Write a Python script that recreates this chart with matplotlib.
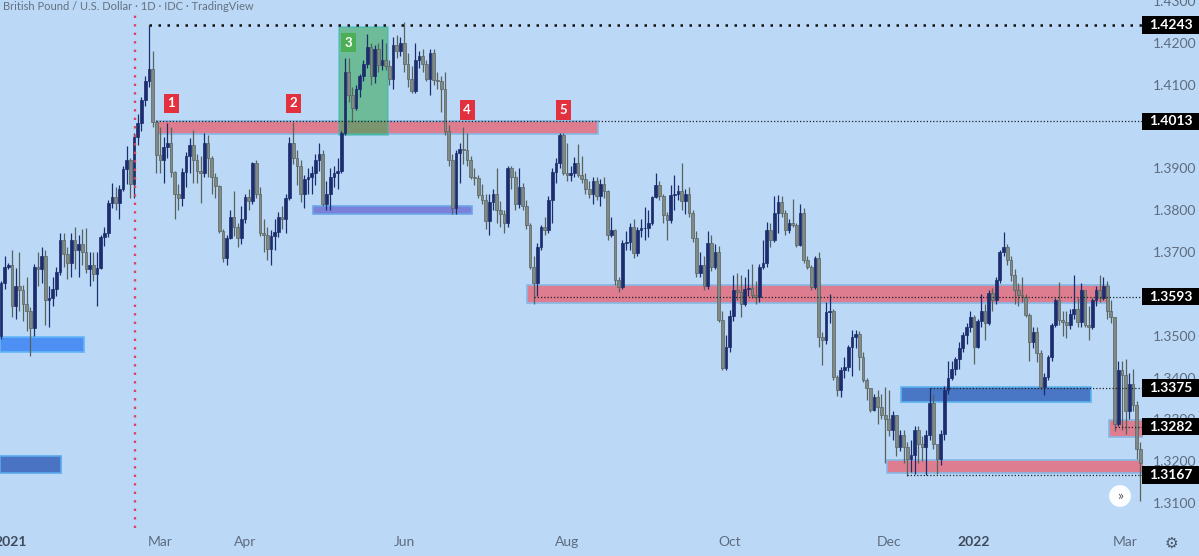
import numpy as np
import matplotlib
matplotlib.use("Agg")
import matplotlib.pyplot as plt
from matplotlib.patches import Rectangle
from matplotlib.transforms import blended_transform_factory

plt.rcParams['font.family'] = ['Lato', 'DejaVu Sans']

# GBP/USD daily, 30 Dec 2020 .. 7 Mar 2022 (bar index = trading day)
first_open = 1.3500
close = [
    1.3625, 1.3665, 1.3670, 1.3572, 1.3620, 1.3610, 1.3575, 1.3560, 1.3518, 1.3665,
    1.3660, 1.3690, 1.3585, 1.3590, 1.3612, 1.3652, 1.3728, 1.3695, 1.3675, 1.3730,
    1.3705, 1.3720, 1.3700, 1.3660, 1.3670, 1.3648, 1.3662, 1.3737, 1.3745, 1.3817,
    1.3832, 1.3818, 1.3850, 1.3898, 1.3920, 1.3862, 1.3976, 1.4008, 1.4064, 1.4108,
    1.4138, 1.4012, 1.3932, 1.3920, 1.3952, 1.3960, 1.3892, 1.3838, 1.3830, 1.3892,
    1.3930, 1.3955, 1.3920, 1.3893, 1.3890, 1.3960, 1.3925, 1.3880, 1.3857, 1.3750,
    1.3685, 1.3733, 1.3785, 1.3760, 1.3733, 1.3780, 1.3832, 1.3822, 1.3912, 1.3840,
    1.3745, 1.3740, 1.3708, 1.3738, 1.3748, 1.3785, 1.3778, 1.3830, 1.3962, 1.3925,
    1.3905, 1.3838, 1.3875, 1.3880, 1.3890, 1.3920, 1.3935, 1.3815, 1.3840, 1.3880,
    1.3888, 1.3895, 1.3985, 1.4130, 1.4075, 1.4045, 1.4090, 1.4120, 1.4150, 1.4190,
    1.4120, 1.4185, 1.4148, 1.4160, 1.4145, 1.4115, 1.4195, 1.4180, 1.4200, 1.4150,
    1.4115, 1.4085, 1.4160, 1.4170, 1.4150, 1.4115, 1.4175, 1.4112, 1.4110, 1.4090,
    1.3990, 1.3920, 1.3805, 1.3936, 1.3946, 1.3945, 1.3920, 1.3880, 1.3878, 1.3837,
    1.3825, 1.3775, 1.3820, 1.3840, 1.3800, 1.3790, 1.3770, 1.3900, 1.3880, 1.3815,
    1.3855, 1.3810, 1.3765, 1.3665, 1.3625, 1.3713, 1.3760, 1.3752, 1.3825, 1.3892,
    1.3912, 1.3980, 1.3890, 1.3885, 1.3888, 1.3912, 1.3885, 1.3875, 1.3850, 1.3838,
    1.3870, 1.3835, 1.3862, 1.3845, 1.3741, 1.3752, 1.3633, 1.3617, 1.3721, 1.3725,
    1.3760, 1.3697, 1.3753, 1.3757, 1.3758, 1.3770, 1.3832, 1.3860, 1.3833, 1.3789,
    1.3777, 1.3836, 1.3840, 1.3845, 1.3822, 1.3840, 1.3793, 1.3733, 1.3649, 1.3670,
    1.3620, 1.3721, 1.3665, 1.3700, 1.3538, 1.3422, 1.3474, 1.3546, 1.3610, 1.3605,
    1.3575, 1.3612, 1.3615, 1.3598, 1.3592, 1.3665, 1.3673, 1.3753, 1.3729, 1.3793,
    1.3820, 1.3793, 1.3753, 1.3769, 1.3765, 1.3717, 1.3793, 1.3681, 1.3665, 1.3617,
    1.3685, 1.3498, 1.3490, 1.3557, 1.3560, 1.3402, 1.3370, 1.3418, 1.3426, 1.3474,
    1.3498, 1.3505, 1.3450, 1.3394, 1.3374, 1.3323, 1.3354, 1.3330, 1.3310, 1.3300,
    1.3275, 1.3310, 1.3235, 1.3262, 1.3235, 1.3205, 1.3215, 1.3275, 1.3240, 1.3235,
    1.3263, 1.3340, 1.3240, 1.3205, 1.3265, 1.3370, 1.3400, 1.3420, 1.3445, 1.3470,
    1.3502, 1.3522, 1.3545, 1.3474, 1.3535, 1.3560, 1.3530, 1.3601, 1.3585, 1.3633,
    1.3700, 1.3712, 1.3680, 1.3645, 1.3609, 1.3598, 1.3593, 1.3550, 1.3486, 1.3510,
    1.3458, 1.3378, 1.3402, 1.3450, 1.3526, 1.3586, 1.3538, 1.3534, 1.3526, 1.3553,
    1.3565, 1.3534, 1.3610, 1.3526, 1.3520, 1.3585, 1.3610, 1.3590, 1.3620, 1.3560,
    1.3545, 1.3290, 1.3418, 1.3407, 1.3320, 1.3385, 1.3335, 1.3228, 1.3195,
]
high = [
    1.3632, 1.3690, 1.3675, 1.3705, 1.3662, 1.3700, 1.3622, 1.3640, 1.3568, 1.3672,
    1.3700, 1.3712, 1.3705, 1.3620, 1.3640, 1.3665, 1.3745, 1.3745, 1.3712, 1.3745,
    1.3760, 1.3740, 1.3755, 1.3758, 1.3700, 1.3700, 1.3700, 1.3742, 1.3760, 1.3825,
    1.3865, 1.3855, 1.3860, 1.3905, 1.3953, 1.3925, 1.3985, 1.4030, 1.4072, 1.4120,
    1.4243, 1.4180, 1.4015, 1.4000, 1.3975, 1.4008, 1.4000, 1.3895, 1.3862, 1.3900,
    1.3940, 1.3972, 1.3992, 1.3935, 1.3930, 1.3985, 1.3980, 1.3930, 1.3890, 1.3860,
    1.3755, 1.3740, 1.3800, 1.3845, 1.3770, 1.3810, 1.3840, 1.3850, 1.3916, 1.3920,
    1.3855, 1.3780, 1.3760, 1.3752, 1.3780, 1.3795, 1.3810, 1.3840, 1.3975, 1.4010,
    1.3945, 1.3920, 1.3885, 1.3900, 1.3905, 1.3935, 1.3962, 1.3945, 1.3870, 1.3900,
    1.3905, 1.3925, 1.3990, 1.4165, 1.4165, 1.4095, 1.4100, 1.4125, 1.4160, 1.4222,
    1.4200, 1.4195, 1.4200, 1.4210, 1.4200, 1.4160, 1.4215, 1.4220, 1.4215, 1.4250,
    1.4175, 1.4145, 1.4200, 1.4180, 1.4185, 1.4160, 1.4185, 1.4185, 1.4130, 1.4120,
    1.4130, 1.4005, 1.3935, 1.3945, 1.3962, 1.3999, 1.3985, 1.3930, 1.3900, 1.3885,
    1.3862, 1.3840, 1.3840, 1.3850, 1.3900, 1.3822, 1.3800, 1.3905, 1.3905, 1.3895,
    1.3900, 1.3865, 1.3825, 1.3770, 1.3690, 1.3722, 1.3765, 1.3785, 1.3835, 1.3900,
    1.3925, 1.3985, 1.3985, 1.3960, 1.3905, 1.3928, 1.3958, 1.3930, 1.3890, 1.3870,
    1.3880, 1.3880, 1.3875, 1.3880, 1.3848, 1.3785, 1.3755, 1.3640, 1.3728, 1.3750,
    1.3770, 1.3780, 1.3760, 1.3780, 1.3808, 1.3800, 1.3835, 1.3890, 1.3870, 1.3840,
    1.3795, 1.3860, 1.3885, 1.3860, 1.3913, 1.3850, 1.3855, 1.3800, 1.3750, 1.3700,
    1.3690, 1.3750, 1.3740, 1.3720, 1.3715, 1.3558, 1.3502, 1.3562, 1.3645, 1.3650,
    1.3645, 1.3640, 1.3660, 1.3672, 1.3632, 1.3672, 1.3730, 1.3772, 1.3770, 1.3833,
    1.3836, 1.3833, 1.3800, 1.3780, 1.3828, 1.3770, 1.3815, 1.3805, 1.3690, 1.3670,
    1.3690, 1.3700, 1.3510, 1.3580, 1.3600, 1.3565, 1.3405, 1.3425, 1.3450, 1.3478,
    1.3514, 1.3514, 1.3512, 1.3460, 1.3400, 1.3376, 1.3360, 1.3370, 1.3360, 1.3378,
    1.3370, 1.3320, 1.3310, 1.3275, 1.3275, 1.3245, 1.3250, 1.3285, 1.3285, 1.3260,
    1.3275, 1.3375, 1.3360, 1.3240, 1.3275, 1.3380, 1.3440, 1.3440, 1.3450, 1.3485,
    1.3510, 1.3530, 1.3560, 1.3550, 1.3540, 1.3600, 1.3575, 1.3610, 1.3615, 1.3640,
    1.3705, 1.3749, 1.3720, 1.3690, 1.3660, 1.3625, 1.3640, 1.3600, 1.3555, 1.3520,
    1.3520, 1.3465, 1.3410, 1.3455, 1.3530, 1.3590, 1.3628, 1.3560, 1.3560, 1.3565,
    1.3645, 1.3590, 1.3625, 1.3600, 1.3570, 1.3590, 1.3620, 1.3645, 1.3640, 1.3630,
    1.3585, 1.3545, 1.3440, 1.3440, 1.3445, 1.3410, 1.3420, 1.3345, 1.3245,
]
low = [
    1.3492, 1.3612, 1.3660, 1.3545, 1.3540, 1.3560, 1.3535, 1.3512, 1.3452, 1.3500,
    1.3618, 1.3625, 1.3525, 1.3522, 1.3570, 1.3595, 1.3645, 1.3665, 1.3635, 1.3640,
    1.3660, 1.3640, 1.3668, 1.3650, 1.3618, 1.3630, 1.3570, 1.3660, 1.3715, 1.3735,
    1.3805, 1.3800, 1.3780, 1.3845, 1.3862, 1.3830, 1.3830, 1.3955, 1.3990, 1.4050,
    1.4095, 1.3998, 1.3888, 1.3888, 1.3865, 1.3925, 1.3880, 1.3780, 1.3800, 1.3810,
    1.3855, 1.3890, 1.3865, 1.3865, 1.3818, 1.3880, 1.3880, 1.3840, 1.3830, 1.3745,
    1.3677, 1.3670, 1.3732, 1.3738, 1.3712, 1.3720, 1.3770, 1.3800, 1.3815, 1.3830,
    1.3738, 1.3700, 1.3680, 1.3670, 1.3705, 1.3735, 1.3755, 1.3745, 1.3825, 1.3910,
    1.3860, 1.3820, 1.3805, 1.3840, 1.3840, 1.3860, 1.3895, 1.3810, 1.3800, 1.3800,
    1.3855, 1.3850, 1.3888, 1.3980, 1.4060, 1.4012, 1.4040, 1.4070, 1.4110, 1.4140,
    1.4100, 1.4105, 1.4130, 1.4135, 1.4135, 1.4100, 1.4090, 1.4165, 1.4170, 1.4130,
    1.4095, 1.4080, 1.4080, 1.4140, 1.4130, 1.4110, 1.4075, 1.4100, 1.4090, 1.4035,
    1.3980, 1.3905, 1.3792, 1.3790, 1.3865, 1.3910, 1.3905, 1.3875, 1.3860, 1.3830,
    1.3815, 1.3755, 1.3740, 1.3800, 1.3770, 1.3760, 1.3745, 1.3760, 1.3850, 1.3800,
    1.3805, 1.3800, 1.3755, 1.3660, 1.3575, 1.3595, 1.3705, 1.3740, 1.3745, 1.3770,
    1.3865, 1.3900, 1.3885, 1.3870, 1.3870, 1.3880, 1.3880, 1.3865, 1.3840, 1.3830,
    1.3815, 1.3825, 1.3810, 1.3830, 1.3730, 1.3735, 1.3622, 1.3605, 1.3612, 1.3705,
    1.3705, 1.3685, 1.3690, 1.3735, 1.3730, 1.3735, 1.3765, 1.3830, 1.3825, 1.3770,
    1.3730, 1.3770, 1.3800, 1.3825, 1.3800, 1.3790, 1.3785, 1.3725, 1.3640, 1.3640,
    1.3610, 1.3612, 1.3655, 1.3660, 1.3533, 1.3418, 1.3418, 1.3460, 1.3535, 1.3585,
    1.3545, 1.3570, 1.3595, 1.3590, 1.3575, 1.3580, 1.3660, 1.3665, 1.3712, 1.3725,
    1.3745, 1.3785, 1.3740, 1.3745, 1.3760, 1.3712, 1.3715, 1.3675, 1.3660, 1.3610,
    1.3612, 1.3474, 1.3430, 1.3480, 1.3530, 1.3394, 1.3355, 1.3354, 1.3400, 1.3415,
    1.3403, 1.3470, 1.3417, 1.3390, 1.3346, 1.3318, 1.3320, 1.3290, 1.3300, 1.3195,
    1.3260, 1.3250, 1.3212, 1.3225, 1.3195, 1.3165, 1.3175, 1.3170, 1.3195, 1.3200,
    1.3168, 1.3250, 1.3230, 1.3170, 1.3190, 1.3250, 1.3360, 1.3395, 1.3405, 1.3420,
    1.3460, 1.3480, 1.3510, 1.3432, 1.3470, 1.3520, 1.3490, 1.3525, 1.3560, 1.3575,
    1.3625, 1.3690, 1.3670, 1.3630, 1.3577, 1.3570, 1.3580, 1.3545, 1.3440, 1.3470,
    1.3438, 1.3370, 1.3358, 1.3395, 1.3440, 1.3520, 1.3525, 1.3500, 1.3495, 1.3515,
    1.3540, 1.3520, 1.3520, 1.3520, 1.3490, 1.3515, 1.3570, 1.3580, 1.3585, 1.3540,
    1.3530, 1.3272, 1.3285, 1.3275, 1.3265, 1.3300, 1.3320, 1.3205, 1.3105,
]

# axis labels
tick_idx = [2.5, 43, 66, 109, 153, 197, 240, 263, 304]
tick_text = ['2021', 'Mar', 'Apr', 'Jun', 'Aug', 'Oct', 'Dec', '2022', 'Mar']
price_ticks = [1.31, 1.32, 1.33, 1.34, 1.35, 1.36, 1.37, 1.38, 1.39, 1.40, 1.41, 1.42, 1.43]

# horizontal levels: (value, start bar, heavy)
levels = [(1.4243, 40, True), (1.4013, 42, False), (1.3593, 144, False),
          (1.3375, 251, False), (1.3282, 301, False), (1.3167, 245, False)]

# zones: (start bar, end bar, low, high, fill, edge)
zones = [
    (42.2, 161.4, 1.3982, 1.4013, '#de7d8f', '#86b9e6'),
    (84.4, 127.3, 1.3791, 1.3809, '#7b80d8', '#6aa6ea'),
    (-0.3, 22.5, 1.3461, 1.3497, '#4d8ff2', '#62b6f8'),
    (-0.3, 16.2, 1.3172, 1.3212, '#4a73c4', '#5aa8ee'),
    (142.2, 299.5, 1.3578, 1.3621, '#de7d8f', '#86b9e6'),
    (243.3, 294.6, 1.3342, 1.3378, '#4a76c6', '#5ab4ee'),
    (299.5, 309.0, 1.3258, 1.3298, '#de7d8f', '#86b9e6'),
    (239.5, 309.0, 1.3172, 1.3203, '#de7d8f', '#86b9e6'),
]
green_box = (91.4, 104.6, 1.3980, 1.4238)
marker_bar = 36.3

# numbered touches: (label, bar, price, colour)
touches = [('1', 46, 1.4056, '#e2303f'), ('2', 79, 1.4056, '#e2303f'),
           ('3', 94, 1.4201, '#4caf55'), ('4', 126, 1.4040, '#e2303f'),
           ('5', 152, 1.4040, '#e2303f')]

bg = '#bbd9f7'
up_col = '#1c2d6d'
dn_col = '#7f8a86'
dn_edge = '#59625f'
label_col = '#5e6b7e'

opens = [first_open] + close[:-1]
n = len(close)
x = np.arange(n)

fig = plt.figure(figsize=(11.99, 5.56), dpi=100)
fig.patch.set_facecolor(bg)
ax = fig.add_axes([0, 28 / 556, 1143 / 1199, 528 / 556])
ax.set_facecolor(bg)
ax.set_xlim(-0.243, 308.68)
ax.set_ylim(1.30402, 1.43028)
for s in ax.spines.values():
    s.set_visible(False)

# zones
for x0, x1, lo, hi, fc, ec in zones:
    ax.add_patch(Rectangle((x0, lo), x1 - x0, hi - lo, facecolor=fc,
                           edgecolor=ec, lw=1.2, zorder=1))
gx0, gx1, glo, ghi = green_box
ax.add_patch(Rectangle((gx0, glo), gx1 - gx0, ghi - glo, facecolor='#3aa85a',
                       alpha=0.6, edgecolor='#40b8b8', lw=1.2, zorder=1.2))

# candles
up = [c >= o for o, c in zip(opens, close)]
wick_cols = [up_col if u else dn_edge for u in up]
ax.vlines(x, low, high, colors=wick_cols, lw=0.9, zorder=3)
bottoms = [min(o, c) for o, c in zip(opens, close)]
heights = [max(abs(c - o), 0.00008) for o, c in zip(opens, close)]
ax.bar(x, heights, bottom=bottoms, width=0.75,
       color=[up_col if u else dn_col for u in up],
       edgecolor=[up_col if u else dn_edge for u in up], lw=0.5, zorder=4)

# level lines
for val, start, heavy in levels:
    if heavy:
        ax.hlines(val, start, 309, colors='#111111', lw=1.8,
                  linestyles=(0, (1, 2.6)), zorder=5)
    else:
        ax.hlines(val, start, 309, colors='#222222', lw=0.9,
                  linestyles=(0, (1, 1.6)), zorder=5)

ax.axvline(marker_bar, color='#d9465c', lw=1.7, linestyle=(0, (1, 2.6)),
           ymax=0.975, zorder=5)

for lab, bx, py, col in touches:
    ax.text(bx, py, lab, color='white', fontsize=9.5, fontweight='bold',
            ha='center', va='center', zorder=6,
            bbox=dict(boxstyle='square,pad=0.28', fc=col, ec='none'))

# axes labels
ax.set_xticks(tick_idx)
ax.set_xticklabels(tick_text)
ax.tick_params(axis='x', length=0, pad=6, labelsize=10, labelcolor=label_col)
for t in ax.get_xticklabels():
    if t.get_text() in ('2021', '2022'):
        t.set_color('#3e4a5c')
        t.set_fontweight('bold')
ax.yaxis.tick_right()
ax.set_yticks(price_ticks)
ax.set_yticklabels(['%.4f' % p for p in price_ticks])
ax.tick_params(axis='y', length=0, pad=7, labelsize=10, labelcolor=label_col)
# labels sitting fully under a price tag are hidden, as on the scale
for t, p in zip(ax.get_yticklabels(), price_ticks):
    if any(abs(p - v) < 0.0015 for v, _, _ in levels):
        t.set_visible(False)

# price tags on scale
tr = blended_transform_factory(ax.transAxes, ax.transData)
for val, start, heavy in levels:
    ax.add_patch(Rectangle((1141.7 / 1143, val - 0.00205), 58 / 1143, 0.0041,
                           transform=tr, facecolor='black', edgecolor='none',
                           clip_on=False, zorder=7))
    ax.text(1170.5 / 1143, val, '%.4f' % val, transform=tr, color='white',
            fontsize=10, fontweight='bold', ha='center', va='center',
            clip_on=False, zorder=8)

fig.text(3 / 1199, 1 - 7 / 556, 'British Pound / U.S. Dollar · 1D · IDC · TradingView',
         fontsize=8, color='#66707e', ha='left', va='center')
fig.text(1120 / 1199, 1 - 496 / 556, '»', fontsize=10, color='#555555',
         ha='center', va='center',
         bbox=dict(boxstyle='circle,pad=0.35', fc='white', ec='none'))
fig.text(1171 / 1199, 1 - 543 / 556, '\u2699', fontsize=11, color='#4a5565',
         ha='center', va='center', family='DejaVu Sans')

fig.savefig('out.png', dpi=100, facecolor=bg)
